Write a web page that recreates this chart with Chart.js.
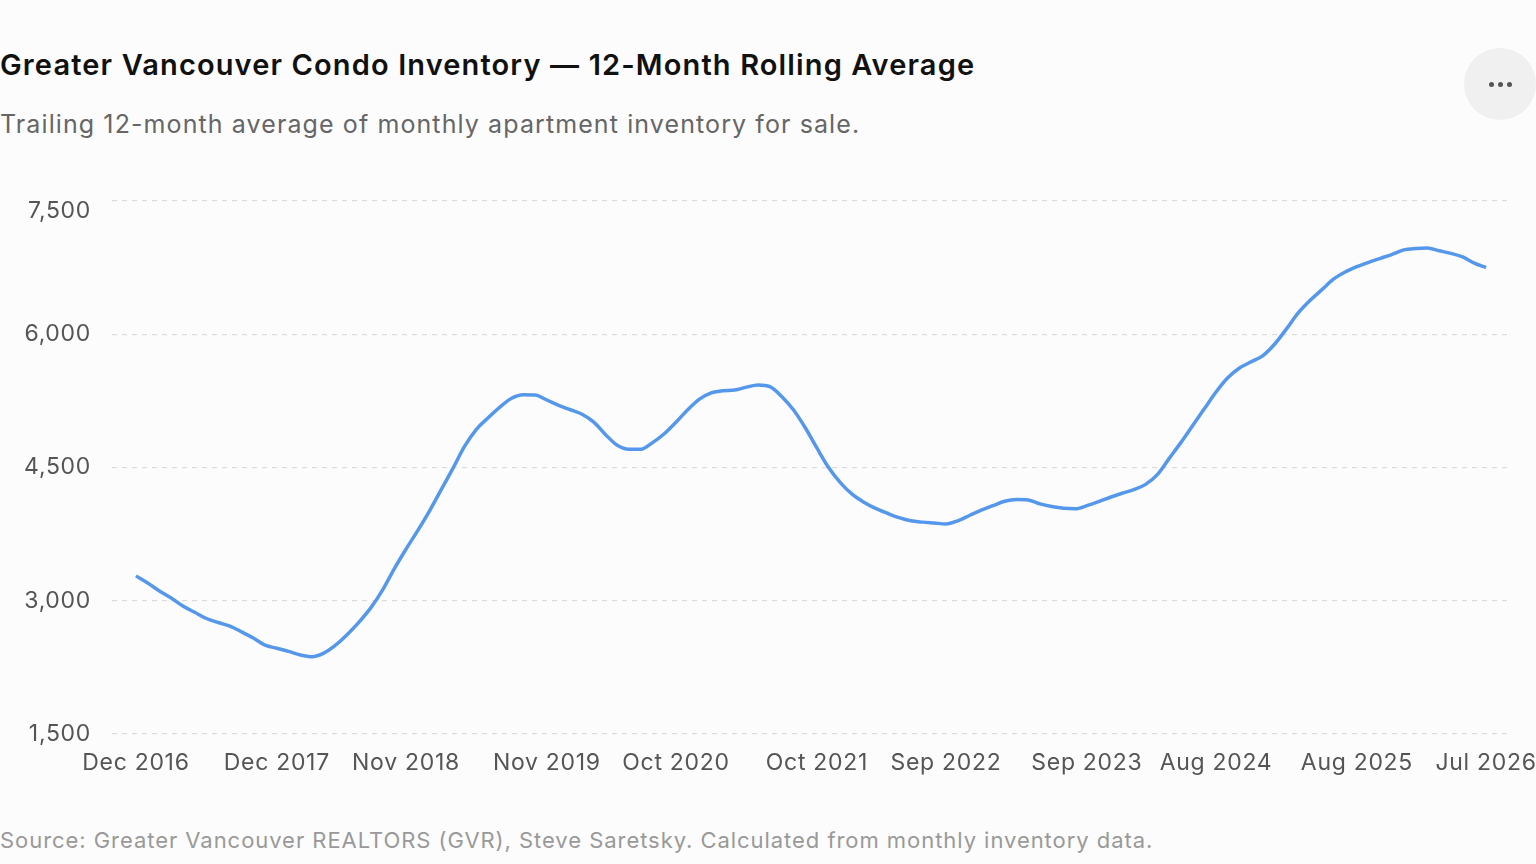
<!DOCTYPE html>
<html>
<head>
<meta charset="utf-8">
<title>Greater Vancouver Condo Inventory</title>
<script src="https://cdn.jsdelivr.net/npm/chart.js@4.4.1/dist/chart.umd.min.js"></script>
<style>
  html, body { margin: 0; padding: 0; background: #fcfcfc; }
  body { width: 1536px; height: 864px; position: relative; overflow: hidden; font-family: Inter, "Noto Sans", sans-serif; }
  #title { position: absolute; left: 0; top: 49px; font-size: 29px; line-height: 32px; font-weight: 600; color: #111; letter-spacing: 1.13px; }
  #subtitle { position: absolute; left: 0; top: 110px; font-size: 25px; line-height: 28px; color: #666; letter-spacing: 1.1px; }
  #source { position: absolute; left: 0; top: 827px; font-size: 22px; line-height: 26px; color: #999; letter-spacing: 0.95px; }
  #menu { position: absolute; left: 1464px; top: 48px; width: 72px; height: 72px; border-radius: 50%; background: #f0f0f0; }
  #menu span { position: absolute; top: 34px; width: 5px; height: 5px; border-radius: 50%; background: #555; }
  #wrap { position: absolute; left: 0; top: 160px; width: 1536px; height: 640px; }
</style>
</head>
<body>
<div id="title">Greater Vancouver Condo Inventory — 12-Month Rolling Average</div>
<div id="subtitle">Trailing 12-month average of monthly apartment inventory for sale.</div>
<div id="menu"><span style="left:25px"></span><span style="left:34px"></span><span style="left:43px"></span></div>
<div id="wrap"><canvas id="chart"></canvas></div>
<div id="source">Source: Greater Vancouver REALTORS (GVR), Steve Saretsky. Calculated from monthly inventory data.</div>

<script>
// monthly points, Dec 2016 .. Jul 2026 (116 months)
var inventory = [
  3280, 3200, 3110, 3030, 2940, 2870, 2800, 2755, 2715, 2650, 2580, 2500,
  2465, 2430, 2390, 2370, 2410, 2500, 2620, 2760, 2920, 3120, 3360, 3580,
  3790, 4010, 4250, 4490, 4740, 4930, 5060, 5180, 5280, 5320, 5315, 5260,
  5200, 5150, 5100, 5010, 4870, 4750, 4705, 4705, 4780, 4880, 5010, 5150,
  5270, 5340, 5365, 5372, 5405, 5430, 5410, 5300, 5150, 4950, 4720, 4500,
  4330, 4200, 4110, 4040, 3985, 3935, 3900, 3885, 3875, 3865, 3900, 3960,
  4020, 4070, 4120, 4140, 4135, 4090, 4060, 4040, 4035, 4070, 4115, 4165,
  4210, 4250, 4310, 4420, 4600, 4780, 4970, 5160, 5350, 5510, 5620, 5690,
  5760, 5890, 6060, 6240, 6380, 6500, 6620, 6700, 6760, 6810, 6855, 6900,
  6950, 6965, 6970, 6940, 6910, 6870, 6800, 6750
];

// x-axis labels and the month index (from Dec 2016) they sit on
var tickLabels = ['Dec 2016', 'Dec 2017', 'Nov 2018', 'Nov 2019', 'Oct 2020', 'Oct 2021',
                  'Sep 2022', 'Sep 2023', 'Aug 2024', 'Aug 2025', 'Jul 2026'];
var tickIndex = [0, 12, 23, 35, 46, 58, 69, 81, 92, 104, 115];

var yTicks = [1500, 3000, 4500, 6000, 7500];

var points = [];
for (var i = 0; i < inventory.length; i++) {
    points.push({ x: i, y: inventory[i] });
}

// wider tracking for axis text, and keep the top y label under its gridline
var tweaks = {
    id: 'tweaks',
    beforeLayout: function (chart) { chart.ctx.letterSpacing = '0.7px'; },
    beforeDraw: function (chart) {
        chart.ctx.letterSpacing = '0.7px';
        var items = chart.scales.y.getLabelItems();
        items.forEach(function (it) {
            if (it.label === '7,500' && !it._moved) {
                it.options.translation[1] += 10;
                it._moved = true;
            }
        });
    }
};

var ctx = document.getElementById('chart');
var chart = new Chart(ctx, {
    type: 'line',
    data: {
        datasets: [{
            label: 'Inventory (12-mo avg)',
            data: points,
            borderColor: '#5598eb',
            borderWidth: 3.5,
            pointRadius: 0,
            fill: false,
            cubicInterpolationMode: 'monotone'
        }]
    },
    plugins: [tweaks],
    options: {
        responsive: true,
        maintainAspectRatio: false,
        animation: false,
        layout: { padding: { top: 41, right: 26, left: 0, bottom: 0 } },
        plugins: { legend: { display: false }, tooltip: { enabled: false } },
        scales: {
            x: {
                type: 'linear',
                min: -2.04,
                max: 117.04,
                grid: { display: false, drawTicks: false },
                border: { display: false },
                afterBuildTicks: function (scale) {
                    scale.ticks = tickIndex.map(function (v) { return { value: v }; });
                },
                afterFit: function (scale) {
                    scale.height = 66;
                    scale.paddingLeft = 0;
                    scale.paddingRight = 0;
                },
                ticks: {
                    autoSkip: false,
                    maxRotation: 0,
                    padding: 15,
                    color: '#555',
                    font: { family: 'Inter', size: 23 },
                    callback: function (value) {
                        var k = tickIndex.indexOf(value);
                        return k >= 0 ? tickLabels[k] : '';
                    }
                }
            },
            y: {
                min: 1500,
                max: 7500,
                afterBuildTicks: function (scale) {
                    scale.ticks = yTicks.map(function (v) { return { value: v }; });
                },
                afterFit: function (scale) { scale.width = 112; },
                grid: { color: '#dcdcdc', lineWidth: 1.2, drawTicks: false },
                border: { display: false, dash: [5, 5] },
                ticks: {
                    padding: 21,
                    color: '#555',
                    font: { family: 'Inter', size: 23 },
                    callback: function (value) { return value.toLocaleString('en-US'); }
                }
            }
        }
    }
});
</script>
</body>
</html>
